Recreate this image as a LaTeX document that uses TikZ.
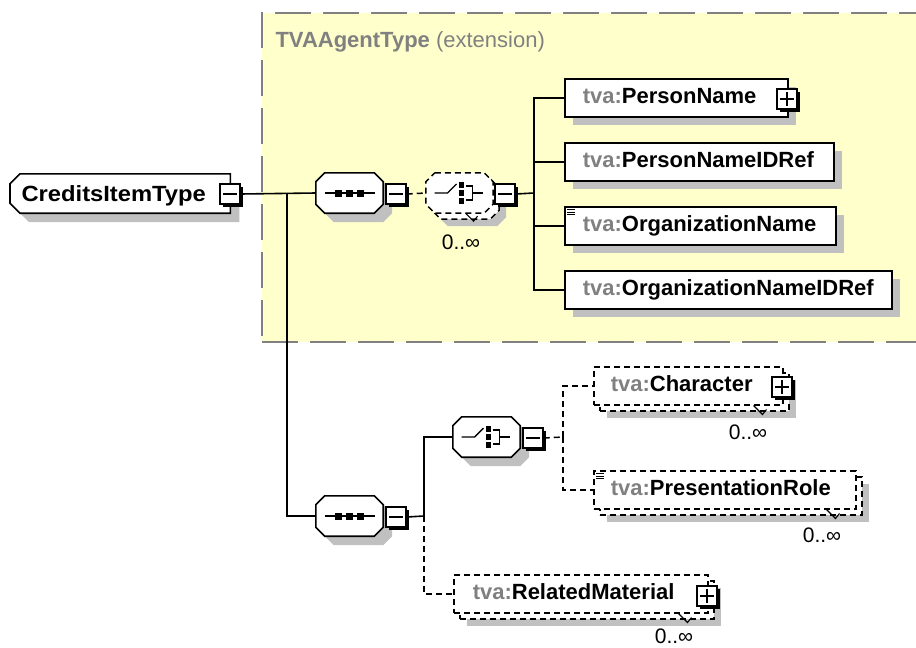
\documentclass[tikz,border=0pt]{standalone}
\usepackage{fontspec}
\setmainfont{Liberation Sans}
\usetikzlibrary{shadows,calc}
\definecolor{ybg}{RGB}{255,255,204}
\definecolor{extgray}{RGB}{128,128,128}
\definecolor{shgray}{RGB}{192,192,192}
\definecolor{tvagray}{RGB}{128,128,128}
\newcommand\etext[3]{\hbox to #1pt{\hspace{#2pt}\textcolor{tvagray}{tva:}#3\hfil}}
\newcommand\pmminus[3]{\node[pm] (#1) at (#2,#3) {};
  \draw[line width=1.4pt] ([xshift=4pt]#1.west) -- ([xshift=-4pt]#1.east);}
\newcommand\pmplus[3]{\pmminus{#1}{#2}{#3}
  \draw[line width=1.4pt] ([yshift=-4pt]#1.north) -- ([yshift=4pt]#1.south);}
% octagon round a named node: name, options, chamfer, dx, dy
\newcommand\octo[5]{\path[#2]
  ($(#1.north west)+(#3+#4,#5)$) -- ($(#1.north east)+(-#3+#4,#5)$) --
  ($(#1.north east)+(#4,#3+#5)$) -- ($(#1.south east)+(#4,-#3+#5)$) --
  ($(#1.south east)+(-#3+#4,#5)$) -- ($(#1.south west)+(#3+#4,#5)$) --
  ($(#1.south west)+(#4,-#3+#5)$) -- ($(#1.north west)+(#4,#3+#5)$) -- cycle;}
% left-chamfered box: name, options, chamfer, dx, dy
\newcommand\lcham[5]{\path[#2]
  ($(#1.north west)+(#3+#4,#5)$) -- ($(#1.north east)+(#4,#5)$) --
  ($(#1.south east)+(#4,#5)$) -- ($(#1.south west)+(#3+#4,#5)$) --
  ($(#1.south west)+(#4,-#3+#5)$) -- ($(#1.north west)+(#4,#3+#5)$) -- cycle;}
\newcommand\seqicon[1]{\begin{scope}[shift={(#1.center)}]
  \draw[line width=1.4pt] (-25,0) -- (25,0);
  \foreach \dx in {-11,0,11} \fill (\dx-3.5,-3.5) rectangle ++(7,7);
  \end{scope}}
\newcommand\choiceicon[1]{\begin{scope}[shift={(#1.center)}]
  \draw[line width=1.4pt] (-25,0) -- (-12,0) -- (-3,-9);
  \foreach \dy in {-8,0,8} \fill (-1,\dy-3) rectangle ++(5,6);
  \draw[line width=1.4pt] (6,-7) -- (13,-7) -- (13,7) -- (6,7) (13,0) -- (23,0);
  \end{scope}}
\newcommand\listicon[1]{\draw[line width=1pt]
  ([shift={(3pt,-3.5pt)}]#1.north west) -- +(8,0)
  ([shift={(3pt,-6pt)}]#1.north west) -- +(8,0)
  ([shift={(3pt,-8.5pt)}]#1.north west) -- +(8,0);}
\newcommand\multtick[1]{\draw[line width=1.1pt] ([shift={(-30pt,0pt)}]#1.south east) -- +(9,9) -- +(13,4);}
\begin{document}
\begin{tikzpicture}[x=1pt,y=-1pt,
  every node/.style={font=\fontsize{22}{26}\selectfont},
  ln/.style={line width=1.6pt},
  dln/.style={line width=1.5pt, dash pattern=on 6pt off 4pt},
  shad/.style={drop shadow={shadow xshift=8pt, shadow yshift=-8pt, fill=shgray, opacity=1}},
  shadb/.style={drop shadow={shadow xshift=7pt, shadow yshift=-7pt, fill=shgray, opacity=1}},
  elem/.style={draw, line width=1.6pt, fill=white, anchor=north west, inner sep=0pt,
    minimum height=38pt, text height=16pt, text depth=5pt, font=\fontsize{22}{26}\selectfont\bfseries},
  delem/.style={elem, line width=1.5pt, dash pattern=on 6pt off 4pt},
  octbox/.style={inner sep=0pt, minimum width=67pt, minimum height=40pt},
  octdraw/.style={draw, fill=white, line width=1.6pt},
  pm/.style={draw, fill=white, line width=1.5pt, minimum size=20pt, inner sep=0pt,
    drop shadow={shadow xshift=2.5pt, shadow yshift=-2.5pt, fill=black, opacity=1}},
  mult/.style={font=\fontsize{21}{24}\selectfont},
]
\useasboundingbox (0,0) rectangle (916,648);
\fill[white] (0,0) rectangle (916,648);

% extension area
\node[draw=extgray, line width=1.8pt, dash pattern=on 36pt off 12pt, fill=ybg, anchor=north west,
  minimum width=700pt, minimum height=329pt, inner sep=0pt] (ext) at (261,12) {};
\node[anchor=base west, text=extgray] (extlabel) at (272,47)
  {\bfseries TVAAgentType \mdseries(extension)};

% root
\node[anchor=west, minimum width=220pt, minimum height=39pt, inner sep=0pt] (cit) at (10,193.5) {};
\lcham{cit}{fill=shgray}{10}{9}{9}
\lcham{cit}{octdraw}{10}{0}{0}
\node[anchor=base west, font=\fontsize{22}{26}\selectfont\bfseries] (citlabel) at (18,201)
  {\scalebox{1.08}[1]{CreditsItemType}};
\pmminus{cm}{230}{194}

% first sequence and choice
\node[octbox] (seq1) at (349.5,193) {};
\octo{seq1}{fill=shgray}{9}{9}{9}
\octo{seq1}{octdraw}{9}{0}{0}
\seqicon{seq1}
\pmminus{s1m}{396}{194}
\node[octbox] (ch1) at (459.5,193) {};
\octo{ch1}{fill=shgray}{9}{13}{13}
\octo{ch1}{octdraw,dln}{9}{6}{6}
\octo{ch1}{octdraw,dln}{9}{0}{0}
\choiceicon{ch1}
\pmminus{c1m}{505}{194}
\node[mult] (m1) at (461,242) {0..∞};
\draw[line width=1.1pt] ([shift={(6pt,0pt)}]ch1.south) -- +(8,8) -- +(12,3);

% children of choice 1
\node[elem, shad] (pn) at (564,78) {\etext{223}{18}{PersonName}};
\pmplus{pnp}{787}{99}
\node[elem, shad] (pnid) at (564,142) {\etext{269}{18}{PersonNameIDRef}};
\node[elem, shad] (on) at (564,206) {\etext{271}{18}{OrganizationName}};
\listicon{on}
\node[elem, shad] (onid) at (564,270) {\etext{327}{18}{OrganizationNameIDRef}};

% second sequence
\node[octbox] (seq2) at (349.5,516) {};
\octo{seq2}{fill=shgray}{9}{9}{9}
\octo{seq2}{octdraw}{9}{0}{0}
\seqicon{seq2}
\pmminus{s2m}{396}{517}

% second choice
\node[octbox] (ch2) at (486.5,437) {};
\octo{ch2}{fill=shgray}{9}{9}{9}
\octo{ch2}{octdraw}{9}{0}{0}
\choiceicon{ch2}
\pmminus{c2m}{533}{438}

% Character
\node[delem, shadb] (chrb) at (599,372) {\hbox to 189pt{\hfil}};
\node[delem] (chr) at (593,366) {\etext{189}{17}{Character}};
\pmplus{chrp}{782}{387}
\multtick{chr}
\node[mult] (m2) at (748,432) {0..∞};

% PresentationRole
\node[delem, shadb] (prb) at (599,476) {\hbox to 262pt{\hfil}};
\node[delem] (pr) at (593,470) {\etext{262}{17}{PresentationRole}};
\listicon{pr}
\multtick{pr}
\node[mult] (m3) at (822,535) {0..∞};

% RelatedMaterial
\node[delem, shadb] (rmb) at (459,580) {\hbox to 254pt{\hfil}};
\node[delem] (rm) at (453,574) {\etext{254}{19}{RelatedMaterial}};
\pmplus{rmp}{707}{596}
\multtick{rm}
\node[mult] (m4) at (674,636) {0..∞};

% junctions
\coordinate (j1) at (287,193);
\coordinate (j2) at (534,193);
\coordinate (j3) at (424,516);
\coordinate (j4) at (563,437);

% connectors
\draw[ln] (cm.east) -- (seq1.west);
\draw[ln] (j1) |- (seq2.west);
\draw[dln] (s1m.east) -- (ch1.west);
\draw[ln] (c1m.east) -- (j2);
\draw[ln] (j2) |- (pn.west);
\draw[ln] (j2) |- (pnid.west);
\draw[ln] (j2) |- (on.west);
\draw[ln] (j2) |- (onid.west);
\draw[ln] (s2m.east) -- (j3);
\draw[ln] (j3) |- (ch2.west);
\draw[dln] (j3) |- (rm.west);
\draw[dln] (c2m.east) -- (j4);
\draw[dln] (j4) |- (chr.west);
\draw[dln] (j4) |- (pr.west);
\end{tikzpicture}
\end{document}
